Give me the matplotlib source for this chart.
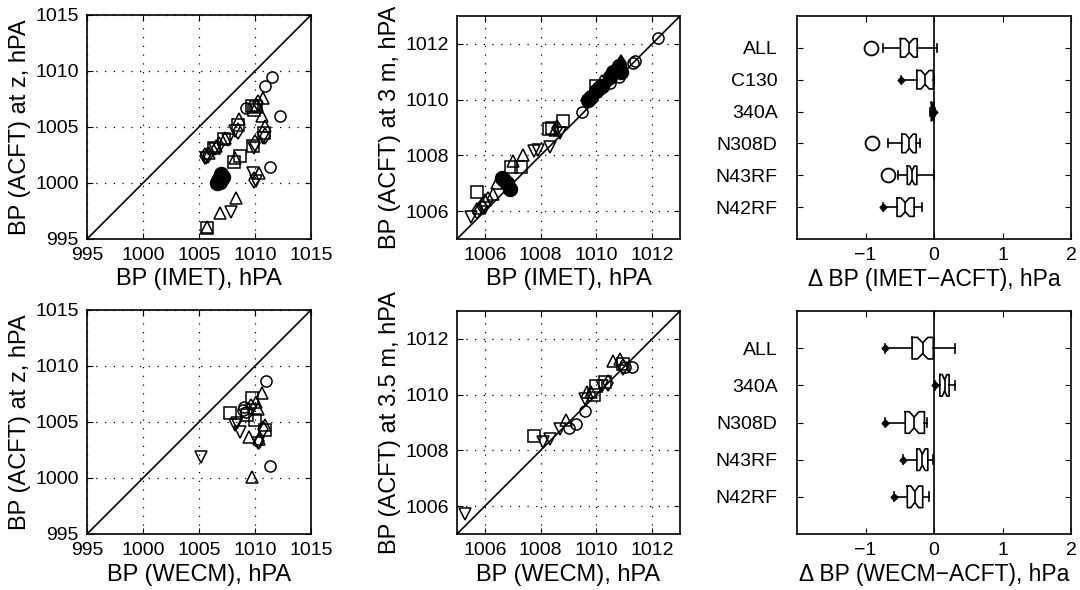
import numpy as np
import matplotlib.pyplot as plt

plt.rcParams['font.family'] = ['Liberation Sans', 'DejaVu Sans']

# ---- scatter data: BP (IMET) vs BP (ACFT) at z
imz_circ_x = [1011.5, 1010.9, 1012.2, 1011.3, 1009.2]
imz_circ_y = [1009.5, 1008.7, 1006.0, 1001.4, 1006.7]
imz_sq_x = [1009.7, 1009.9, 1010.1, 1009.8, 1008.1, 1008.5, 1005.7, 1006.3, 1010.8, 1008.7, 1007.2]
imz_sq_y = [1006.9, 1006.5, 1006.8, 1003.3, 1001.9, 1005.2, 996.0, 1003.1, 1004.5, 1002.4, 1003.9]
imz_tu_x = [1010.7, 1010.6, 1008.3, 1006.9, 1005.7, 1008.6, 1007.3, 1010.2, 1010.9, 1005.9, 1010.4, 1008.2, 1006.5]
imz_tu_y = [1007.6, 1006.0, 998.7, 997.3, 996.1, 1005.7, 1004.0, 1007.0, 1005.1, 1002.7, 1000.9, 1002.2, 1003.3]
imz_td_x = [1007.9, 1009.8, 1010.1, 1005.6, 1008.2, 1009.9, 1010.7, 1006.4, 1007.6]
imz_td_y = [997.4, 1000.9, 1000.2, 1002.2, 1004.6, 1003.1, 1004.0, 1003.0, 1003.8]
imz_dm_x = [1010.3, 1010.9, 1009.9, 1006.8, 1008.5, 1005.8, 1010.0, 1005.5]
imz_dm_y = [1007.1, 1004.2, 1000.3, 1003.4, 1004.6, 1002.5, 1003.6, 1002.4]
imz_fc_x = [1006.6, 1006.8, 1007.0, 1006.7, 1006.9, 1007.1]
imz_fc_y = [1000.0, 1000.4, 1000.8, 1000.2, 1000.1, 1000.5]

# ---- BP (IMET) vs BP (ACFT) at 3 m
im3_circ_x = [1012.2, 1011.4, 1011.3, 1010.8, 1009.5, 1010.5, 1010.9]
im3_circ_y = [1012.2, 1011.4, 1011.3, 1010.8, 1009.55, 1010.6, 1011.0]
im3_sq_x = [1008.3, 1008.8, 1007.3, 1005.7, 1006.95, 1010.0, 1008.4]
im3_sq_y = [1008.95, 1009.25, 1007.6, 1006.7, 1007.6, 1010.5, 1009.0]
im3_tu_x = [1007.35, 1006.45, 1006.3, 1007.0, 1008.5, 1010.9, 1005.8, 1009.9, 1006.0]
im3_tu_y = [1008.0, 1007.0, 1006.6, 1007.8, 1008.9, 1011.3, 1006.1, 1010.3, 1006.4]
im3_td_x = [1008.35, 1007.75, 1007.9, 1005.5, 1008.7, 1006.0, 1010.6]
im3_td_y = [1008.3, 1008.15, 1008.2, 1005.8, 1008.8, 1006.1, 1010.8]
im3_dm_x = [1010.9, 1010.7, 1010.2, 1005.9, 1006.1, 1008.6, 1005.7]
im3_dm_y = [1011.3, 1011.1, 1010.6, 1006.2, 1006.4, 1009.0, 1006.0]
im3_fc_x = [1006.6, 1006.8, 1006.9, 1006.7, 1009.8, 1010.0, 1010.2, 1010.5, 1010.8, 1009.7, 1010.9, 1010.1, 1010.6]
im3_fc_y = [1007.2, 1007.0, 1006.8, 1007.1, 1010.1, 1010.3, 1010.5, 1010.8, 1011.2, 1010.0, 1011.0, 1010.4, 1011.0]

# ---- BP (WECM) vs BP (ACFT) at z
wez_circ_x = [1011.0, 1008.9, 1009.2, 1011.3, 1009.0]
wez_circ_y = [1008.7, 1006.1, 1005.9, 1001.1, 1006.3]
wez_sq_x = [1009.7, 1007.8, 1010.0, 1010.9, 1009.3]
wez_sq_y = [1007.1, 1005.8, 1005.2, 1004.3, 1005.6]
wez_tu_x = [1010.6, 1010.1, 1010.3, 1009.5, 1009.7, 1010.9, 1010.4]
wez_tu_y = [1007.6, 1006.8, 1006.2, 1003.7, 1000.05, 1004.7, 1003.5]
wez_td_x = [1008.2, 1008.65, 1005.2, 1010.3, 1008.4]
wez_td_y = [1004.75, 1004.15, 1001.9, 1003.1, 1004.9]
wez_dm_x = [1010.4, 1010.7, 1009.6]
wez_dm_y = [1003.3, 1004.4, 1006.3]

# ---- BP (WECM) vs BP (ACFT) at 3.5 m
we3_circ_x = [1009.0, 1009.27, 1009.58, 1011.04, 1011.28]
we3_circ_y = [1008.8, 1008.95, 1009.4, 1011.0, 1011.0]
we3_sq_x = [1007.75, 1009.9, 1010.0, 1010.3, 1010.95]
we3_sq_y = [1008.5, 1010.0, 1010.3, 1010.45, 1011.1]
we3_tu_x = [1008.9, 1009.66, 1009.8, 1010.6, 1010.86]
we3_tu_y = [1009.1, 1010.1, 1010.1, 1011.2, 1011.27]
we3_td_x = [1005.27, 1008.1, 1008.35, 1008.7, 1009.6, 1010.2]
we3_td_y = [1005.7, 1008.3, 1008.4, 1008.75, 1009.85, 1010.3]
we3_dm_x = [1010.95, 1010.4]
we3_dm_y = [1011.0, 1010.4]

# ---- box plot stats, IMET-ACFT
im_names = ["ALL", "C130", "340A", "N308D", "N43RF", "N42RF"]
im_q1 = [-0.49, -0.25, -0.04, -0.47, -0.39, -0.54]
im_med = [-0.36, -0.13, -0.02, -0.36, -0.32, -0.42]
im_q3 = [-0.245, -0.01, 0.0, -0.26, -0.25, -0.29]
im_wlo = [-0.75, -0.48, -0.06, -0.67, -0.53, -0.75]
im_whi = [0.04, 0.0, 0.02, -0.2, 0.0, -0.17]
im_dot = [None, -0.48, 0.0, None, None, -0.75]
im_out = [-0.92, None, None, -0.9, -0.67, None]

# ---- box plot stats, WECM-ACFT
we_names = ["ALL", "340A", "N308D", "N43RF", "N42RF"]
we_q1 = [-0.32, 0.085, -0.42, -0.25, -0.39]
we_med = [-0.165, 0.155, -0.29, -0.17, -0.28]
we_q3 = [-0.01, 0.22, -0.14, -0.09, -0.165]
we_wlo = [-0.72, 0.015, -0.72, -0.45, -0.58]
we_whi = [0.30, 0.30, -0.10, -0.01, -0.08]
we_dot = [-0.72, 0.015, -0.72, -0.45, -0.58]

W, H = 1080, 590
fig = plt.figure(figsize=(10.8, 5.9), dpi=100)

def box(l, t, r, b):
    return fig.add_axes([l / W, 1 - b / H, (r - l) / W, (b - t) / H])

def style(ax):
    ax.tick_params(direction='in', length=4, top=True, right=True, labelsize=14, pad=6, width=0.8)
    for s in ax.spines.values():
        s.set_linewidth(1.2)

def scatter_panel(ax, groups, lim, ticks, xl, yl):
    ax.plot(lim, lim, color='black', lw=1.2, zorder=1)
    for gx, gy, mk, fill in groups:
        ax.plot(gx, gy, mk, ms=10 if fill else 8, mfc='black' if fill else 'none',
                mec='black', mew=1.1, zorder=3)
    ax.set_xlim(lim)
    ax.set_ylim(lim)
    ax.set_xticks(ticks)
    ax.set_yticks(ticks)
    ax.grid(True, color='black', lw=0.9, linestyle=(0, (1, 6)))
    ax.set_axisbelow(True)
    ax.set_xlabel(xl, fontsize=17, labelpad=3)
    ax.set_ylabel(yl, fontsize=17, labelpad=3)
    style(ax)

def box_panel(ax, names, q1, med, q3, wlo, whi, dots, outs, xl):
    n = len(names)
    stats = []
    for i in range(n):
        iqr = q3[i] - q1[i]
        ci = max(iqr * 0.5, 0.03)
        stats.append(dict(med=med[i], q1=q1[i], q3=q3[i], whislo=wlo[i], whishi=whi[i],
                          cilo=med[i] - ci / 2, cihi=med[i] + ci / 2, fliers=[]))
    pos = np.arange(1, n + 1)
    ax.axvline(0, color='black', lw=1.2, zorder=1)
    ax.bxp(stats, positions=pos, vert=False, widths=0.58, shownotches=True,
           boxprops=dict(color='black', lw=1.2), medianprops=dict(color='black', lw=1.2),
           whiskerprops=dict(color='black', lw=1.2), capprops=dict(color='black', lw=1.2),
           capwidths=0.25, showfliers=False)
    for i in range(n):
        if dots[i] is not None:
            ax.plot(dots[i], pos[i], 'D', ms=3.5, color='black')
        if outs is not None and outs[i] is not None:
            ax.plot(outs[i], pos[i], 'o', ms=10, mfc='none', mec='black', mew=1.3)
    ax.set_xlim(-2, 2)
    ax.set_ylim(n + 1, 0)
    ax.set_xticks([-1, 0, 1, 2])
    ax.set_xticklabels(['\u22121', '0', '1', '2'])
    ax.set_yticks(pos)
    ax.set_yticklabels(names)
    ax.set_xlabel(xl, fontsize=16.5, labelpad=3)
    style(ax)
    ax.tick_params(axis='y', pad=14)

ax1 = box(87, 15, 311, 239)
scatter_panel(ax1, [(imz_circ_x, imz_circ_y, 'o', False), (imz_sq_x, imz_sq_y, 's', False),
                    (imz_tu_x, imz_tu_y, '^', False), (imz_td_x, imz_td_y, 'v', False),
                    (imz_dm_x, imz_dm_y, 'd', False), (imz_fc_x, imz_fc_y, 'o', True)],
              (995, 1015), [995, 1000, 1005, 1010, 1015],
              "BP (IMET), hPA", "BP (ACFT) at z, hPA")

ax2 = box(457, 16, 680, 239)
scatter_panel(ax2, [(im3_circ_x, im3_circ_y, 'o', False), (im3_sq_x, im3_sq_y, 's', False),
                    (im3_tu_x, im3_tu_y, '^', False), (im3_td_x, im3_td_y, 'v', False),
                    (im3_dm_x, im3_dm_y, 'd', False), (im3_fc_x, im3_fc_y, 'o', True)],
              (1005, 1013), [1006, 1008, 1010, 1012],
              "BP (IMET), hPA", "BP (ACFT) at 3 m, hPA")

ax3 = box(797, 16, 1071, 239)
box_panel(ax3, im_names, im_q1, im_med, im_q3, im_wlo, im_whi, im_dot, im_out,
          "\u0394 BP (IMET\u2212ACFT), hPa")

ax4 = box(87, 310, 311, 534)
scatter_panel(ax4, [(wez_circ_x, wez_circ_y, 'o', False), (wez_sq_x, wez_sq_y, 's', False),
                    (wez_tu_x, wez_tu_y, '^', False), (wez_td_x, wez_td_y, 'v', False),
                    (wez_dm_x, wez_dm_y, 'd', False)],
              (995, 1015), [995, 1000, 1005, 1010, 1015],
              "BP (WECM), hPA", "BP (ACFT) at z, hPA")

ax5 = box(457, 311, 680, 534)
scatter_panel(ax5, [(we3_circ_x, we3_circ_y, 'o', False), (we3_sq_x, we3_sq_y, 's', False),
                    (we3_tu_x, we3_tu_y, '^', False), (we3_td_x, we3_td_y, 'v', False),
                    (we3_dm_x, we3_dm_y, 'd', False)],
              (1005, 1013), [1006, 1008, 1010, 1012],
              "BP (WECM), hPA", "BP (ACFT) at 3.5 m, hPA")

ax6 = box(797, 311, 1071, 534)
box_panel(ax6, we_names, we_q1, we_med, we_q3, we_wlo, we_whi, we_dot, None,
          "\u0394 BP (WECM\u2212ACFT), hPa")

fig.savefig("out.png", dpi=100)
